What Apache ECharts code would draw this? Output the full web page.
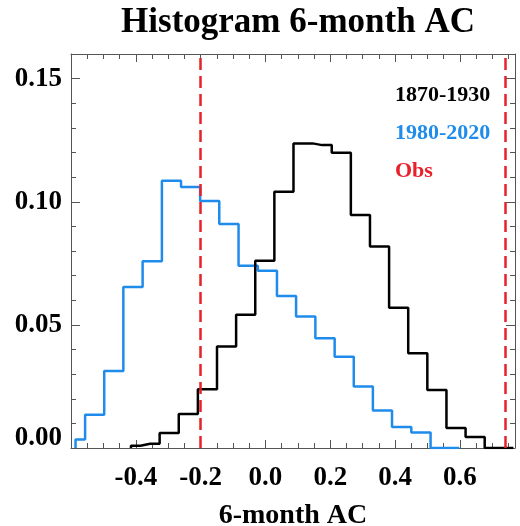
<!DOCTYPE html>
<html>
<head>
<meta charset="utf-8">
<script src="https://cdn.jsdelivr.net/npm/echarts@6/dist/echarts.min.js"></script>
<style>
  html, body { margin: 0; padding: 0; background: #fff; }
  #main { width: 520px; height: 526px; }
</style>
</head>
<body>
<div id="main"></div>
<script>
// bin centres (the two runs use slightly different bins)
var oldCenters = [-0.415, -0.356, -0.297, -0.238, -0.179, -0.120, -0.061, -0.002, 0.057, 0.116,
  0.175, 0.234, 0.293, 0.352, 0.411, 0.470, 0.529, 0.588, 0.647, 0.706, 0.765];
var oldFreq = [0.0009, 0.0017, 0.0061, 0.0138, 0.0239, 0.0412, 0.0541, 0.0760, 0.1041, 0.1237,
  0.1230, 0.1199, 0.0946, 0.0818, 0.0570, 0.0385, 0.0236, 0.0081, 0.0045, 0.0, 0.0];

var newCenters = [-0.586, -0.527, -0.468, -0.409, -0.349, -0.290, -0.231, -0.172, -0.113, -0.053,
  0.006, 0.065, 0.124, 0.184, 0.243, 0.302, 0.361, 0.420, 0.480, 0.539, 0.598];
var newFreq = [0.0035, 0.0135, 0.0313, 0.0654, 0.0758, 0.1085, 0.1060, 0.1003, 0.0910, 0.0740,
  0.0720, 0.0617, 0.0534, 0.0446, 0.0371, 0.0250, 0.0152, 0.0085, 0.0063, 0.0, 0.0];

var obsValues = [-0.198, 0.745];
var seriesNames = ['1870-1930', '1980-2020', 'Obs'];

var serif = 'Liberation Serif';

function toPairs(xs, ys) {
  // start from zero so the first step rises from the axis
  var out = [[xs[0], 0]];
  for (var i = 0; i < xs.length; i++) {
    out.push([xs[i], ys[i]]);
  }
  return out;
}

var chart = echarts.init(document.getElementById('main'), null, { renderer: 'canvas' });

var tickStyle = { color: '#555', width: 1 };
var labelFont = { fontFamily: serif, fontWeight: 'bold', fontSize: 27, color: '#000' };

var option = {
  backgroundColor: '#fff',
  animation: false,
  title: {
    text: 'Histogram 6-month AC',
    left: 293,
    textAlign: 'center',
    top: 0,
    textStyle: { fontFamily: serif, fontWeight: 'bold', fontSize: 35, color: '#000' }
  },
  legend: {
    orient: 'vertical',
    left: 385,
    top: 79,
    icon: 'none',
    itemWidth: 0,
    itemHeight: 10,
    itemGap: 16,
    selectedMode: false,
    textStyle: { fontFamily: serif, fontWeight: 'bold', fontSize: 22, padding: 0 },
    data: [
      { name: seriesNames[0], textStyle: { color: '#000' } },
      { name: seriesNames[1], textStyle: { color: '#1f8ceb' } },
      { name: seriesNames[2], textStyle: { color: '#e8202a' } }
    ]
  },
  // keep the plot box fixed; labels may sit outside it
  grid: { left: 71, right: 5, top: 54, bottom: 78, outerBoundsMode: 'none', containLabel: false },
  xAxis: [
    {
      type: 'value',
      min: -0.6,
      max: 0.77,
      interval: 0.2,
      name: '6-month AC',
      nameLocation: 'middle',
      nameGap: 54,
      nameTextStyle: { fontFamily: serif, fontWeight: 'bold', fontSize: 28, color: '#000' },
      axisLine: { show: true, onZero: false, lineStyle: tickStyle },
      axisTick: { show: true, inside: true, length: 8, lineStyle: tickStyle },
      minorTick: { show: true, splitNumber: 4, length: 5, lineStyle: tickStyle },
      splitLine: { show: false },
      axisLabel: Object.assign({
        showMinLabel: false,
        showMaxLabel: false,
        margin: 17,
        formatter: function (v) { return v.toFixed(1); }
      }, labelFont)
    },
    {
      type: 'value',
      position: 'top',
      min: -0.6,
      max: 0.77,
      interval: 0.2,
      axisLine: { show: true, onZero: false, lineStyle: tickStyle },
      axisTick: { show: true, inside: true, length: 8, lineStyle: tickStyle },
      minorTick: { show: true, splitNumber: 4, length: 5, lineStyle: tickStyle },
      splitLine: { show: false },
      axisLabel: { show: false }
    }
  ],
  yAxis: [
    {
      type: 'value',
      min: 0,
      max: 0.16,
      interval: 0.05,
      axisLine: { show: true, onZero: false, lineStyle: tickStyle },
      axisTick: { show: true, inside: true, length: 9, lineStyle: tickStyle },
      minorTick: { show: true, splitNumber: 5, length: 5, lineStyle: tickStyle },
      splitLine: { show: false },
      axisLabel: Object.assign({
        showMaxLabel: false,
        margin: 9,
        formatter: function (v) {
          // the bottom label is lifted off the x axis
          return v === 0 ? '{low|' + v.toFixed(2) + '}' : v.toFixed(2);
        },
        rich: {
          low: Object.assign({ padding: [0, 0, 20, 0] }, labelFont)
        }
      }, labelFont)
    },
    {
      type: 'value',
      position: 'right',
      min: 0,
      max: 0.16,
      interval: 0.05,
      axisLine: { show: true, onZero: false, lineStyle: tickStyle },
      axisTick: { show: true, inside: true, length: 9, lineStyle: tickStyle },
      minorTick: { show: true, splitNumber: 5, length: 5, lineStyle: tickStyle },
      splitLine: { show: false },
      axisLabel: { show: false }
    }
  ],
  series: [
    {
      name: seriesNames[0],
      type: 'line',
      step: 'middle',
      symbol: 'none',
      clip: true,
      lineStyle: { color: '#000', width: 2.5 },
      itemStyle: { color: '#000' },
      data: toPairs(oldCenters, oldFreq),
      z: 3
    },
    {
      name: seriesNames[1],
      type: 'line',
      step: 'middle',
      symbol: 'none',
      clip: true,
      lineStyle: { color: '#1f8ceb', width: 2.5 },
      itemStyle: { color: '#1f8ceb' },
      data: toPairs(newCenters, newFreq),
      z: 2
    },
    {
      name: seriesNames[2],
      type: 'line',
      data: [],
      itemStyle: { color: '#e8202a' },
      markLine: {
        silent: true,
        symbol: 'none',
        label: { show: false },
        lineStyle: { color: '#e8202a', width: 2.5, type: [12, 6] },
        data: obsValues.map(function (v) { return { xAxis: v }; })
      },
      z: 4
    }
  ]
};

chart.setOption(option);
</script>
</body>
</html>
